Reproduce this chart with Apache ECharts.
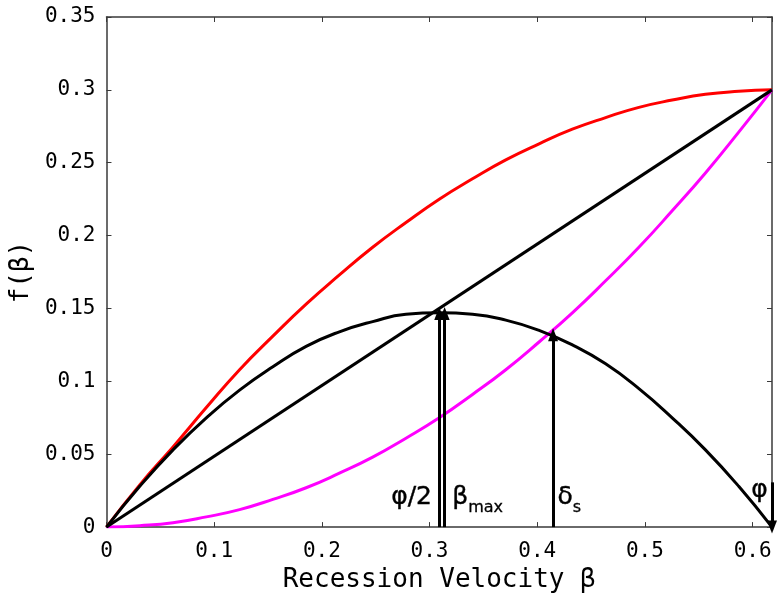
<!DOCTYPE html>
<html lang="en">
	<head>
		<meta charset="UTF-8">
		<title>f(beta) - recession velocity</title>
	</head>

	<style>
		html, body {
			margin: 0;
			padding: 0;
			background: #fff;
		}
		.chart-box {
			width: 784px;
			height: 598px;
		}
	</style>

	<body>
		<div id='echarts' class="chart-box"></div>
	</body>

	<script type="text/javascript" src="https://cdn.jsdelivr.net/npm/echarts@6/dist/echarts.min.js"></script>
	<script>
		// beta values where the curves were read (phi/20 apart)
		var betaX = [0, 0.0309, 0.0618, 0.0927, 0.1236, 0.1545, 0.1854, 0.2163, 0.2472, 0.2781, 0.309,
			0.3399, 0.3708, 0.4017, 0.4326, 0.4635, 0.4944, 0.5253, 0.5562, 0.5871, 0.618]

		// red curve
		var redY = [0, 0.029, 0.055, 0.082, 0.108, 0.131, 0.153, 0.173, 0.192, 0.209, 0.225,
			0.239, 0.252, 0.263, 0.273, 0.281, 0.288, 0.293, 0.297, 0.299, 0.300]

		// black hump curve
		var humpY = [0, 0.028, 0.053, 0.075, 0.094, 0.110, 0.124, 0.134, 0.141, 0.146, 0.147,
			0.146, 0.142, 0.135, 0.125, 0.112, 0.095, 0.075, 0.053, 0.028, 0]

		// magenta curve
		var magY = [0, 0.001, 0.003, 0.007, 0.012, 0.019, 0.027, 0.037, 0.048, 0.061, 0.075,
			0.091, 0.108, 0.127, 0.147, 0.169, 0.192, 0.217, 0.243, 0.271, 0.300]

		// black straight line
		var lineX = [0, 0.618]
		var lineY = [0, 0.300]

		// arrows: x, from y, to y
		var arrowX = [0.309, 0.314, 0.4147, 0.618]
		var arrowFrom = [0, 0, 0, 0.0307]
		var arrowTo = [0.1466, 0.1466, 0.132, 0]

		// annotation texts and where they sit
		var annoText = ['φ/2', 'β{sub|max}', 'δ{sub|s}', 'φ']
		var annoX = [0.2833, 0.3447, 0.4298, 0.6063]
		var annoY = [0.0201, 0.0201, 0.0201, 0.0252]

		var xTicks = [0, 0.1, 0.2, 0.3, 0.4, 0.5, 0.6]

		function pairs(xs, ys) {
			var out = []
			for (var i = 0; i < xs.length; i++) {
				out.push([xs[i], ys[i]])
			}
			return out
		}

		var monoFont = 'DejaVu Sans Mono'
		var axisColor = '#3a3a3a'

		function frameAxis(extra) {
			var base = {
				type: 'value',
				axisLine: { show: true, onZero: false, lineStyle: { color: axisColor, width: 1.5 } },
				axisTick: { show: true, inside: true, length: 5, lineStyle: { color: axisColor, width: 1 } },
				splitLine: { show: false }
			}
			for (var k in extra) base[k] = extra[k]
			return base
		}

		function curve(name, xs, ys, color, z) {
			return {
				name: name,
				type: 'line',
				smooth: 0.5,
				showSymbol: false,
				lineStyle: { color: color, width: 3 },
				data: pairs(xs, ys),
				z: z
			}
		}

		var arrowLines = []
		for (var i = 0; i < arrowX.length; i++) {
			arrowLines.push([
				{ coord: [arrowX[i], arrowFrom[i]] },
				{ coord: [arrowX[i], arrowTo[i]] }
			])
		}

		var annoData = []
		for (var j = 0; j < annoText.length; j++) {
			annoData.push([annoX[j], annoY[j], annoText[j]])
		}

		var myChart = echarts.init(document.getElementById('echarts'))
		var option = {
			animation: false,
			backgroundColor: '#fff',
			grid: {
				left: 103,
				right: 12,
				top: 17,
				bottom: 68,
				containLabel: false
			},
			xAxis: [
				frameAxis({
					min: 0,
					max: 0.618,
					interval: 0.1,
					name: 'Recession Velocity β',
					nameLocation: 'middle',
					nameGap: 34,
					nameTextStyle: { fontFamily: monoFont, fontSize: 26, color: '#000' },
					axisLabel: {
						margin: 14,
						fontFamily: monoFont,
						fontSize: 21,
						color: '#000',
						formatter: function (v) {
							for (var t = 0; t < xTicks.length; t++) {
								if (Math.abs(v - xTicks[t]) < 1e-6) return String(xTicks[t])
							}
							return ''
						}
					}
				}),
				frameAxis({
					position: 'top',
					min: 0,
					max: 0.618,
					interval: 0.1,
					axisLabel: { show: false }
				})
			],
			yAxis: [
				frameAxis({
					min: 0,
					max: 0.35,
					interval: 0.05,
					name: 'f(β)',
					nameLocation: 'middle',
					nameGap: 61,
					nameTextStyle: { fontFamily: monoFont, fontSize: 26, color: '#000' },
					axisLabel: {
						margin: 11,
						fontFamily: monoFont,
						fontSize: 21,
						color: '#000'
					}
				}),
				frameAxis({
					position: 'right',
					min: 0,
					max: 0.35,
					interval: 0.05,
					axisLabel: { show: false }
				})
			],
			series: [
				curve('red', betaX, redY, '#ff0000', 2),
				curve('magenta', betaX, magY, '#ff00ff', 2),
				curve('straight', lineX, lineY, '#000', 3),
				curve('hump', betaX, humpY, '#000', 3),
				{
					name: 'notes',
					type: 'scatter',
					symbolSize: 0,
					data: annoData,
					z: 5,
					label: {
						show: true,
						position: 'inside',
						opacity: 1,
						fontFamily: 'DejaVu Sans',
						fontSize: 25,
						color: '#000',
						textBorderColor: '#000',
						textBorderWidth: 0.4,
						formatter: function (p) { return p.data[2] },
						rich: {
							sub: {
								fontFamily: 'DejaVu Sans', fontSize: 16, color: '#000',
								textBorderColor: '#000', textBorderWidth: 0.3,
								verticalAlign: 'bottom', padding: [0, 0, -6, 0]
							}
						}
					},
					markLine: {
						silent: true,
						symbol: ['none', 'triangle'],
						symbolSize: [10, 13],
						label: { show: false },
						lineStyle: { color: '#000', width: 3, type: 'solid' },
						data: arrowLines
					}
				}
			]
		}

		myChart.setOption(option, true)
	</script>
</html>
